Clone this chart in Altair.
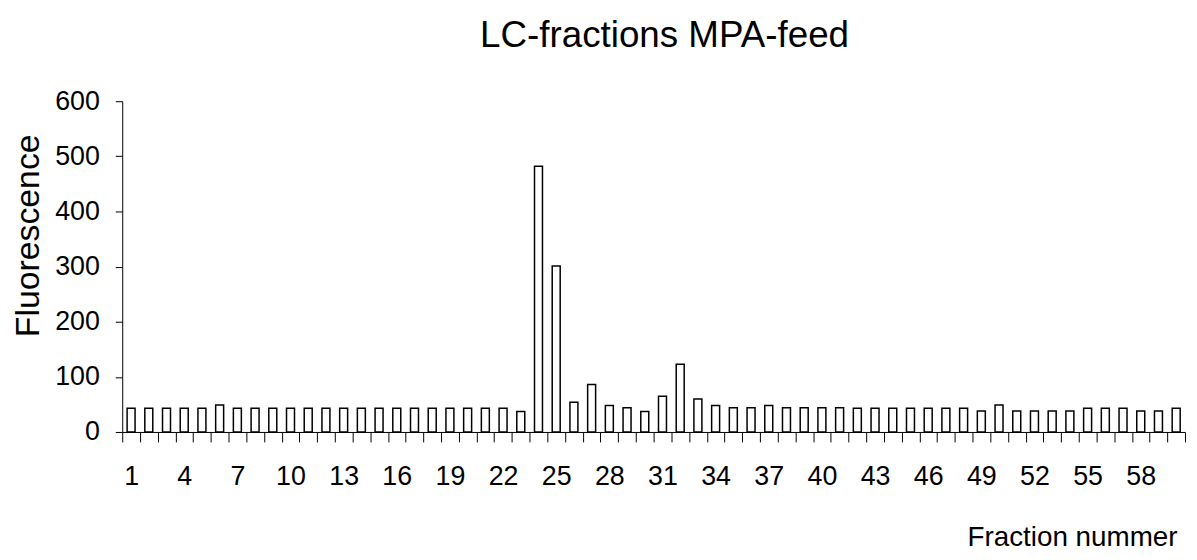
import altair as alt
import pandas as pd

fractions = list(range(1, 61))
fluorescence = [
    43, 43, 43, 43, 43, 49, 43, 43, 43, 43,
    43, 43, 43, 43, 43, 43, 43, 43, 43, 43,
    43, 43, 37, 482, 301, 54, 86, 48, 44, 37,
    65, 123, 60, 48, 44, 44, 48, 44, 44, 44,
    44, 43, 43, 43, 43, 43, 43, 43, 38, 49,
    38, 38, 38, 38, 43, 43, 43, 38, 38, 43,
]
y_ticks = [0, 100, 200, 300, 400, 500, 600]

df = pd.DataFrame({"frac": fractions, "value": fluorescence})

FONT = "Liberation Sans"

chart = (
    alt.Chart(df)
    .mark_bar(fill="white", stroke="black", strokeWidth=1.5,
              width=alt.RelativeBandSize(0.45))
    .encode(
        x=alt.X(
            "frac:O",
            scale=alt.Scale(paddingInner=0, paddingOuter=0),
            axis=alt.Axis(
                title="Fraction nummer",
                tickBand="extent",
                labelExpr="(datum.value - 1) % 3 == 0 ? datum.label : ''",
                labelAngle=0,
                labelOverlap=False,
                labelFontSize=27,
                labelPadding=22,
                tickSize=10,
                titleFontSize=28,
                titleAnchor="end",
                titleAlign="right",
                titleX=1062,
                titleY=114,
                titleBaseline="alphabetic",
            ),
        ),
        y=alt.Y(
            "value:Q",
            scale=alt.Scale(domain=[0, 600], nice=False),
            axis=alt.Axis(
                title="Fluorescence",
                values=y_ticks,
                labelFontSize=27,
                labelPadding=16,
                tickSize=7,
                titleFontSize=34,
                titleAngle=270,
                titleBaseline="middle",
                titleAlign="center",
                titleX=-94,
                titleY=135,
            ),
        ),
    )
    .properties(
        width=1070,
        height=333,
        autosize=alt.AutoSizeParams(type="none"),
        padding={"left": 115, "top": 92, "right": 4, "bottom": 119},
        title=alt.TitleParams(
            "LC-fractions MPA-feed",
            fontSize=37,
            fontWeight="normal",
            font=FONT,
            color="black",
            anchor="middle",
            frame="group",
            offset=33,
            dx=11,
        ),
    )
    .configure(font=FONT)
    .configure_view(stroke=None)
    .configure_axis(
        grid=False,
        domainColor="black",
        tickColor="black",
        labelColor="black",
        titleColor="black",
        titleFontWeight="normal",
        labelFont=FONT,
        titleFont=FONT,
        domainWidth=1,
        tickWidth=1,
    )
)

chart.save("out.html", embed_options={"renderer": "svg", "actions": False})
